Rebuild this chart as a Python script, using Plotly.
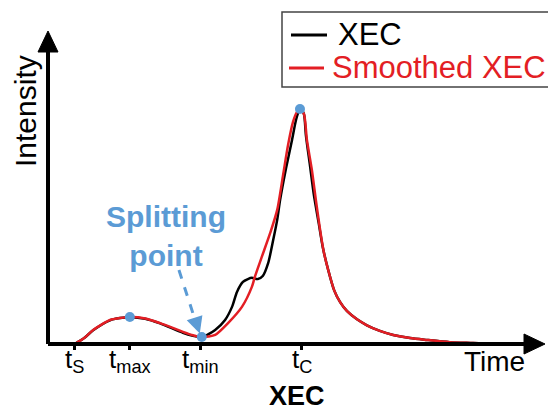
import plotly.graph_objects as go

# ---- data (time: 0..100 along the arrow axis, intensity: 0..100) ----
xec_time = [5.4, 7.3, 9.1, 12.5, 14.5, 16.5, 19.6, 22.6, 27.2, 29.0, 31.0, 33.7, 35.7, 37.1, 38.1,
            39.3, 40.3, 41.1, 42.3, 43.3, 44.4, 45.4, 46.2, 46.8, 48.0, 49.2, 50.0, 50.6, 51.0,
            51.6, 52.0, 52.8, 53.6, 54.6, 55.4, 56.5, 57.7, 58.9, 60.3, 62.3, 64.3, 66.9, 69.6,
            73.0, 76.4, 81.0, 85.7, 90.1]
xec_int = [0.0, 1.9, 4.4, 7.6, 8.3, 8.6, 8.1, 6.6, 3.6, 2.7, 2.2, 4.5, 7.7, 11.9, 16.7,
           19.9, 20.8, 21.2, 20.8, 21.8, 26.0, 33.3, 39.7, 46.2, 56.4, 65.4, 71.8, 74.7, 75.3,
           73.7, 66.9, 57.4, 47.8, 38.5, 31.0, 23.7, 17.2, 13.4, 10.5, 7.9, 6.0, 4.2, 2.9,
           1.9, 1.3, 0.6, 0.3, 0.0]

smooth_time = [5.4, 7.3, 9.1, 12.5, 14.5, 16.5, 19.6, 22.6, 27.2, 29.0, 30.8, 32.3, 33.7, 36.3,
               39.1, 41.1, 41.7, 43.1, 44.8, 46.2, 47.4, 48.4, 49.4, 50.2, 50.8, 51.6, 52.2,
               53.2, 54.0, 54.8, 55.6, 56.5, 57.7, 58.9, 60.3, 62.3, 64.3, 66.9, 69.6, 73.0,
               76.4, 81.0, 85.7, 90.1]
smooth_int = [0.0, 1.9, 4.5, 7.7, 8.3, 8.65, 8.2, 6.7, 3.9, 2.9, 2.24, 2.4, 2.9, 6.7,
              11.9, 18.3, 21.5, 27.9, 35.6, 42.9, 54.2, 63.8, 71.2, 74.4, 75.3, 73.7, 65.4,
              55.8, 46.2, 37.2, 29.5, 23.7, 17.2, 13.4, 10.5, 7.9, 6.0, 4.2, 2.9, 1.9,
              1.3, 0.6, 0.3, 0.0]

key_time = [16.5, 31.0, 50.8]      # t_max, t_min (splitting point), t_C
key_int = [8.65, 2.24, 75.3]

tick_vals = [5.4, 16.5, 30.8, 51.2]
tick_text = ["t<sub>S</sub>", "t<sub>max</sub>", "t<sub>min</sub>", "t<sub>C</sub>"]

series_names = ["XEC", "Smoothed XEC"]

FONT = "Liberation Sans, Arial, sans-serif"
RED = "#E31E24"
BLUE = "#5B9BD5"
series_colors = ["black", RED]

fig = go.Figure()
fig.add_trace(go.Scatter(x=xec_time, y=xec_int, mode="lines", name=series_names[0],
                         showlegend=False,
                         line=dict(color=series_colors[0], width=2.5, shape="spline", smoothing=0.7)))
fig.add_trace(go.Scatter(x=smooth_time, y=smooth_int, mode="lines", name=series_names[1],
                         showlegend=False,
                         line=dict(color=series_colors[1], width=2.5, shape="spline", smoothing=0.7)))
fig.add_trace(go.Scatter(x=key_time, y=key_int, mode="markers", showlegend=False,
                         marker=dict(color=BLUE, size=10), cliponaxis=False))

W_PX, H_PX = 496.0, 312.0  # plot-area size in pixels
X0_PX, Y0_PX = 48.0, 344.0  # pixel position of the axis origin


def pxx(x):
    return (x - X0_PX) / W_PX


def pxy(y):
    return (Y0_PX - y) / H_PX


shapes = [
    # x axis line + arrow
    dict(type="line", xref="paper", yref="paper", x0=0, y0=0, x1=pxx(528), y1=0,
         line=dict(color="black", width=4)),
    dict(type="path", xref="paper", yref="paper",
         path=f"M {pxx(545)},0 L {pxx(524)},{pxy(334)} L {pxx(524)},{pxy(354)} Z",
         fillcolor="black", line=dict(color="black", width=1)),
    # y axis line + arrow
    dict(type="line", xref="paper", yref="paper", x0=0, y0=0, x1=0, y1=pxy(48),
         line=dict(color="black", width=4)),
    dict(type="path", xref="paper", yref="paper",
         path=f"M 0,{pxy(31)} L {pxx(58)},{pxy(52)} L {pxx(38)},{pxy(52)} Z",
         fillcolor="black", line=dict(color="black", width=1)),
    # dashed pointer of splitting point
    dict(type="line", xref="x", yref="y", x0=26.4, y0=23.7, x1=29.8, y1=7.0,
         line=dict(color=BLUE, width=3, dash="dash")),
    # legend box (runs past the right edge, as in the reference)
    dict(type="rect", xref="paper", yref="paper", x0=pxx(282), x1=pxx(600),
         y0=pxy(87), y1=pxy(12), fillcolor="white", line=dict(color="#444", width=1.5),
         layer="above"),
    # legend samples
    dict(type="line", xref="paper", yref="paper", x0=pxx(291), x1=pxx(327),
         y0=pxy(35), y1=pxy(35), line=dict(color=series_colors[0], width=3), layer="above"),
    dict(type="line", xref="paper", yref="paper", x0=pxx(289), x1=pxx(324),
         y0=pxy(68), y1=pxy(68), line=dict(color=series_colors[1], width=3), layer="above"),
]

annotations = [
    dict(text="Intensity", xref="paper", yref="paper", x=pxx(25), y=pxy(111),
         xanchor="center", yanchor="middle", textangle=-90, showarrow=False,
         font=dict(family=FONT, size=30, color="black")),
    dict(text="Time", xref="paper", yref="paper", x=pxx(494), y=pxy(344),
         xanchor="center", yanchor="top", showarrow=False,
         font=dict(family=FONT, size=28, color="black")),
    dict(text="<b>XEC</b>", xref="paper", yref="paper", x=pxx(297), y=pxy(379),
         xanchor="center", yanchor="top", showarrow=False,
         font=dict(family=FONT, size=27, color="black")),
    dict(text="<b>Splitting<br>point</b>", xref="paper", yref="paper",
         x=pxx(166), y=pxy(198), xanchor="center", yanchor="top", showarrow=False,
         font=dict(family=FONT, size=30, color=BLUE)),
    dict(text="", xref="x", yref="y", x=30.6, y=3.4, ax=-4, ay=-12, showarrow=True,
         arrowhead=2, arrowsize=1.1, arrowwidth=3, arrowcolor=BLUE, standoff=0),
    # legend texts
    dict(text=series_names[0], xref="paper", yref="paper", x=pxx(336), y=pxy(35),
         xanchor="left", yanchor="middle", showarrow=False,
         font=dict(family=FONT, size=31, color=series_colors[0])),
    dict(text=series_names[1], xref="paper", yref="paper", x=pxx(330), y=pxy(67),
         xanchor="left", yanchor="middle", showarrow=False,
         font=dict(family=FONT, size=31, color=series_colors[1])),
]

# tick labels (t with subscripts) placed under each tick
for tv, tt in zip(tick_vals, tick_text):
    annotations.append(dict(text=tt, xref="x", yref="paper", x=tv, y=pxy(342),
                            xanchor="center", yanchor="top", showarrow=False,
                            font=dict(family=FONT, size=26, color="black")))

fig.update_layout(
    width=548, height=410,
    margin=dict(l=48, r=4, t=32, b=66, pad=0, autoexpand=False),
    paper_bgcolor="white", plot_bgcolor="white",
    font=dict(family=FONT, color="black"),
    xaxis=dict(range=[0, 100], showgrid=False, zeroline=False, showline=False,
               tickmode="array", tickvals=tick_vals, ticktext=[""] * len(tick_vals),
               ticks="outside", ticklen=5, tickwidth=3, tickcolor="black",
               showticklabels=False),
    yaxis=dict(range=[0, 100], showgrid=False, zeroline=False, showline=False,
               showticklabels=False, ticks=""),
    shapes=shapes,
    annotations=annotations,
    showlegend=False,
)

fig.write_html("out.html")
